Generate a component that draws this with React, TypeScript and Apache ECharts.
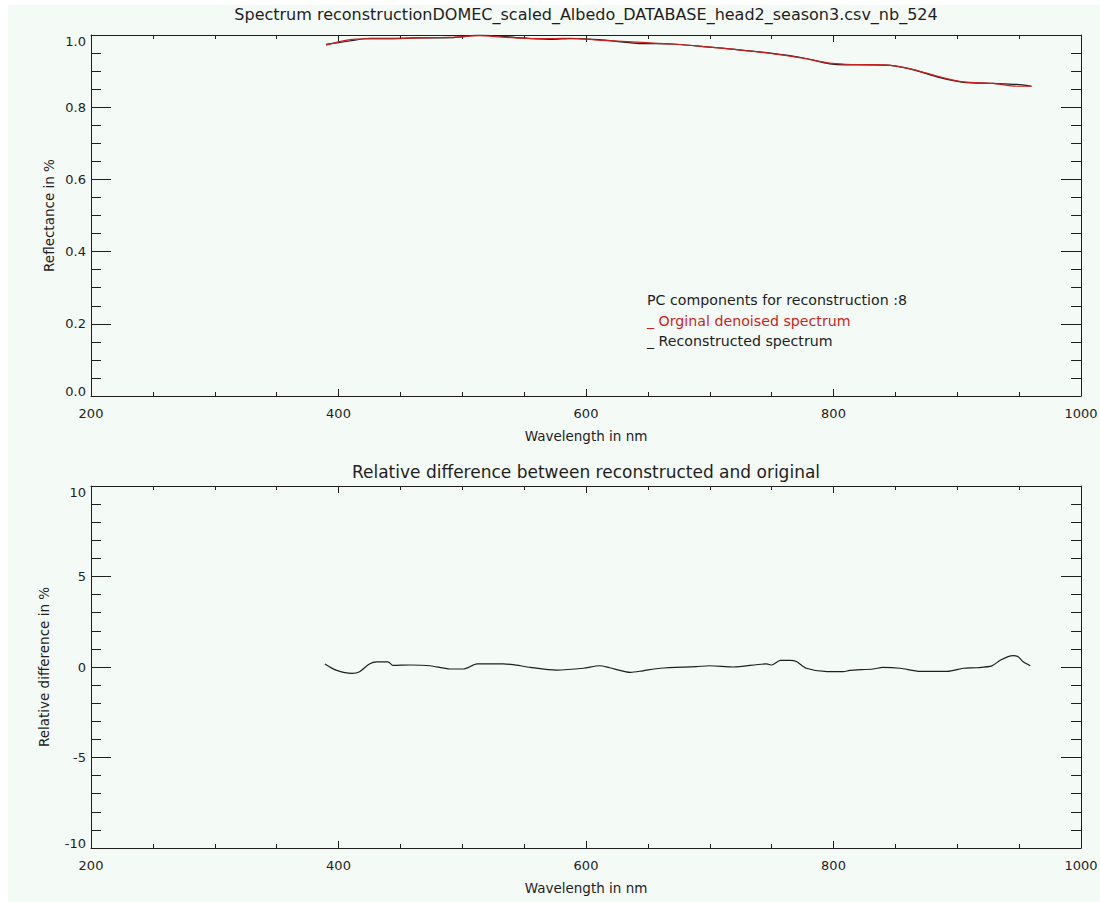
import React, { useEffect, useRef } from "react";
import * as echarts from "echarts";

// Reconstruction of a reflectance spectrum from 8 principal components
const spectrumTitle =
  "Spectrum reconstructionDOMEC_scaled_Albedo_DATABASE_head2_season3.csv_nb_524";
const diffTitle = "Relative difference between reconstructed and original";
const legendHeader = "PC components for reconstruction :8";
const legendOriginal = "_ Orginal denoised spectrum";
const legendReconstructed = "_ Reconstructed spectrum";

// Wavelength (nm) samples of the spectrum
const spectrumWavelengths = [
  390, 400, 412, 425, 442, 460, 493, 514, 530, 547, 573, 587, 610, 641, 670,
  695, 720, 749, 775, 797, 810, 824, 846, 864, 886, 905, 929, 948, 960,
];
// Original denoised reflectance
const originalSpectrum = [
  0.972, 0.981, 0.988, 0.989, 0.989, 0.991, 0.994, 0.998, 0.995, 0.991, 0.99,
  0.991, 0.986, 0.98, 0.975, 0.968, 0.96, 0.949, 0.936, 0.922, 0.919, 0.918,
  0.916, 0.905, 0.884, 0.87, 0.866, 0.858, 0.858,
];
// Reconstructed reflectance
const reconstructedSpectrum = [
  0.974, 0.979, 0.985, 0.991, 0.991, 0.992, 0.993, 1.0, 0.997, 0.992, 0.988,
  0.99, 0.987, 0.977, 0.975, 0.968, 0.96, 0.95, 0.937, 0.92, 0.917, 0.917,
  0.916, 0.904, 0.882, 0.869, 0.866, 0.863, 0.858,
];

// Relative difference (%) between reconstructed and original
const diffWavelengths = [
  389, 398, 411, 417, 425, 431, 440, 444, 458, 474, 490, 501, 512, 533, 541,
  555, 576, 598, 611, 619, 636, 646, 660, 689, 700, 719, 746, 750, 757, 765,
  770, 778, 795, 808, 813, 832, 840, 854, 870, 892, 905, 916, 928, 935, 945,
  949, 953, 959,
];
const relativeDiff = [
  0.17, -0.17, -0.35, -0.26, 0.17, 0.28, 0.28, 0.09, 0.11, 0.07, -0.11, -0.11,
  0.17, 0.17, 0.13, -0.02, -0.17, -0.07, 0.07, -0.04, -0.3, -0.21, -0.07, 0.02,
  0.07, 0.0, 0.17, 0.11, 0.37, 0.37, 0.3, -0.07, -0.26, -0.26, -0.19, -0.11,
  -0.02, -0.07, -0.24, -0.24, -0.07, -0.04, 0.06, 0.39, 0.63, 0.58, 0.3, 0.07,
];

const FONT = "DejaVu Sans";
const INK = "#1e1e1e";
const RED = "#cc1f1f";
const BG = "#f4faf6";

const pairs = (xs: number[], ys: number[]) => xs.map((x, i) => [x, ys[i]]);

function wavelengthAxes(gridIndex: number) {
  const common = {
    type: "value" as const,
    gridIndex,
    min: 200,
    max: 1000,
    interval: 200,
    splitLine: { show: false },
    axisLine: { show: true, onZero: false, lineStyle: { color: INK, width: 1 } },
    axisTick: { show: true, inside: true, length: 7, lineStyle: { color: INK } },
    minorTick: { show: true, splitNumber: 4, length: 4, lineStyle: { color: INK } },
  };
  return [
    {
      ...common,
      position: "bottom",
      name: "Wavelength in nm",
      nameLocation: "middle",
      nameGap: 33,
      nameMoveOverlap: false,
      nameTextStyle: { fontFamily: FONT, fontSize: 13.5, color: INK },
      axisLabel: {
        show: true,
        margin: 11,
        fontFamily: FONT,
        fontSize: 13,
        color: INK,
        showMinLabel: true,
        showMaxLabel: true,
        hideOverlap: false,
        formatter: (v: number) => String(v),
      },
    },
    { ...common, position: "top", axisLabel: { show: false } },
  ];
}

function valueAxes(
  gridIndex: number,
  min: number,
  max: number,
  interval: number,
  minorSplit: number,
  name: string,
  nameGap: number,
  fmt: (v: number) => string
) {
  const common = {
    type: "value" as const,
    gridIndex,
    min,
    max,
    interval,
    splitLine: { show: false },
    axisLine: { show: true, onZero: false, lineStyle: { color: INK, width: 1 } },
    axisTick: { show: true, inside: true, length: 20, lineStyle: { color: INK } },
    minorTick: { show: true, splitNumber: minorSplit, length: 10, lineStyle: { color: INK } },
  };
  const base = { fontFamily: FONT, fontSize: 13, color: INK };
  return [
    {
      ...common,
      position: "left",
      name,
      nameLocation: "middle",
      nameGap,
      nameMoveOverlap: false,
      nameTextStyle: { ...base, fontSize: 13.5 },
      axisLabel: {
        show: true,
        margin: 5,
        ...base,
        showMinLabel: true,
        showMaxLabel: true,
        hideOverlap: false,
        formatter: (v: number) => {
          const s = fmt(v);
          if (v === max) return `{hi|${s}}`;
          if (v === min) return `{lo|${s}}`;
          return s;
        },
        rich: {
          hi: { ...base, padding: [12, 0, 0, 0] },
          lo: { ...base, padding: [0, 0, 10, 0] },
        },
      },
    },
    { ...common, position: "right", axisLabel: { show: false } },
  ];
}

export default function App() {
  const ref = useRef<HTMLDivElement>(null);

  useEffect(() => {
    if (!ref.current) return;
    const chart = echarts.init(ref.current, undefined, { renderer: "svg" });

    const [xb0, xt0] = wavelengthAxes(0);
    const [xb1, xt1] = wavelengthAxes(1);
    const [yl0, yr0] = valueAxes(0, 0, 1, 0.2, 4, "Reflectance in %", 35, (v) => v.toFixed(1));
    const [yl1, yr1] = valueAxes(1, -10, 10, 5, 5, "Relative difference in %", 40, (v) =>
      String(Math.round(v))
    );

    chart.setOption({
      animation: false,
      backgroundColor: BG,
      textStyle: { fontFamily: FONT },
      grid: [
        { left: 83, top: 30, width: 990, height: 361, containLabel: false, outerBoundsMode: "none" },
        { left: 83, top: 481, width: 990, height: 362, containLabel: false, outerBoundsMode: "none" },
      ],
      xAxis: [xb0, xt0, xb1, xt1],
      yAxis: [yl0, yr0, yl1, yr1],
      series: [
        {
          type: "line",
          name: "Reconstructed spectrum",
          xAxisIndex: 0,
          yAxisIndex: 0,
          data: pairs(spectrumWavelengths, reconstructedSpectrum),
          showSymbol: false,
          smooth: 0.25,
          lineStyle: { color: INK, width: 1.2 },
          itemStyle: { color: INK },
          z: 2,
        },
        {
          type: "line",
          name: "Orginal denoised spectrum",
          xAxisIndex: 0,
          yAxisIndex: 0,
          data: pairs(spectrumWavelengths, originalSpectrum),
          showSymbol: false,
          smooth: 0.25,
          lineStyle: { color: RED, width: 1.2 },
          itemStyle: { color: RED },
          z: 3,
        },
        {
          type: "line",
          name: "Relative difference",
          xAxisIndex: 2,
          yAxisIndex: 2,
          data: pairs(diffWavelengths, relativeDiff),
          showSymbol: false,
          smooth: 0.25,
          lineStyle: { color: INK, width: 1.2 },
          itemStyle: { color: INK },
        },
      ],
      graphic: [
        {
          type: "text",
          x: 578,
          y: 9,
          style: { text: spectrumTitle, fontFamily: FONT, fontSize: 16, fill: INK, textAlign: "center", textVerticalAlign: "middle" },
        },
        {
          type: "text",
          x: 578,
          y: 467,
          style: { text: diffTitle, fontFamily: FONT, fontSize: 17, fill: INK, textAlign: "center", textVerticalAlign: "middle" },
        },
        {
          type: "text",
          x: 639,
          y: 295,
          style: { text: legendHeader, fontFamily: FONT, fontSize: 14.2, fill: INK, textVerticalAlign: "middle" },
        },
        {
          type: "text",
          x: 639,
          y: 316,
          style: { text: legendOriginal, fontFamily: FONT, fontSize: 14.2, fill: RED, textVerticalAlign: "middle" },
        },
        {
          type: "text",
          x: 639,
          y: 336,
          style: { text: legendReconstructed, fontFamily: FONT, fontSize: 14.2, fill: INK, textVerticalAlign: "middle" },
        },
      ],
    });

    return () => chart.dispose();
  }, []);

  return (
    <div
      ref={ref}
      style={{ position: "absolute", left: 8, top: 5, width: 1092, height: 897 }}
    />
  );
}
